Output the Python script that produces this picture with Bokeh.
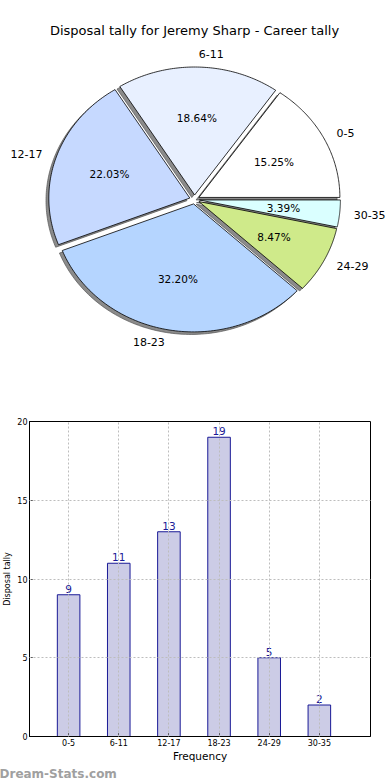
import numpy as np
from bokeh.plotting import figure
from bokeh.models import ColumnDataSource, Label, FixedTicker, Range1d, Title
from bokeh.layouts import column, row
from bokeh.embed import file_html
from bokeh.resources import INLINE
from bokeh.core.properties import value

# ---------------- data ----------------
title_text = "Disposal tally for Jeremy Sharp - Career tally"
categories = ["0-5", "6-11", "12-17", "18-23", "24-29", "30-35"]
tallies = [9, 11, 13, 19, 5, 2]
slice_colors = ["#FFFFFF", "#E8F0FF", "#C6D9FF", "#B5D5FF", "#CFEA8A", "#DAFFFF"]
y_ticks = [0, 5, 10, 15, 20]
bar_xlabel = "Frequency"
bar_ylabel = "Disposal tally"
watermark = "Dream-Stats.com"

FONT = "DejaVu Sans"
PIE_W = 390
PIE_H = 400

# ---------------- pie ----------------
vals = np.array(tallies, dtype=float)
frac = vals / vals.sum()
ends = np.cumsum(frac) * 2 * np.pi
starts = ends - frac * 2 * np.pi
mids = (starts + ends) / 2
explode = 0.035
ex = explode * np.cos(mids)
ey = explode * np.sin(mids)

xs, ys, sxs, sys_ = [], [], [], []
for s, e, dx, dy in zip(starts, ends, ex, ey):
    t = np.linspace(s, e, 90)
    px = np.concatenate([[0.0], np.cos(t), [0.0]]) + dx
    py = np.concatenate([[0.0], np.sin(t), [0.0]]) + dy
    xs.append(px.tolist())
    ys.append(py.tolist())
    sxs.append((px - 0.02).tolist())
    sys_.append((py - 0.02).tolist())

RX, RY = 141.0, 128.0   # pixels per unit
CX, CY = 194.0, 199.0   # centre in figure pixels (from left / top)
p1 = figure(frame_width=PIE_W, frame_height=PIE_H, title=None,
            x_range=Range1d(-CX / RX, (PIE_W - CX) / RX),
            y_range=Range1d(-(PIE_H - CY) / RY, CY / RY),
            output_backend="svg", toolbar_location=None,
            x_axis_location=None, y_axis_location=None,
            min_border=0, min_border_left=0, min_border_right=0,
            min_border_top=0, min_border_bottom=0,
            outline_line_color=None)
p1.xgrid.visible = False
p1.ygrid.visible = False

p1.patches(xs=sxs, ys=sys_, fill_color="#4d4d4d", fill_alpha=0.65,
           line_color="#4d4d4d", line_alpha=0.65, line_width=1)
p1.patches(xs=xs, ys=ys, fill_color=slice_colors, line_color="black", line_width=0.8)

lx = ex + 1.1 * np.cos(mids)
ly = ey + 1.1 * np.sin(mids)
right_side = lx > 0
for mask, align in ((right_side, "left"), (~right_side, "right")):
    src = ColumnDataSource(dict(x=lx[mask], y=ly[mask],
                                t=[c for c, m in zip(categories, mask) if m]))
    p1.text(x="x", y="y", text="t", source=src, text_align=align,
            text_baseline="middle", text_font=value(FONT),
            text_font_size="11px", text_color="black")

pxs = ex + 0.6 * np.cos(mids)
pys = ey + 0.6 * np.sin(mids)
pct = ["%.2f%%" % (f * 100) for f in frac]
p1.text(x=pxs, y=pys, text=pct, text_align="center", text_baseline="middle",
        text_font=value(FONT), text_font_size="10.5px", text_color="black")

p1.add_layout(Label(x=0.0, y=169 / RY, text=title_text, text_align="center",
                    text_baseline="middle", text_font=FONT, text_font_size="13px",
                    text_color="black"))

# ---------------- bar ----------------
idx = list(range(len(categories)))
p2 = figure(width=390, height=380, title=None,
            x_range=Range1d(-0.78, 6.02), y_range=Range1d(0, 20),
            output_backend="svg", toolbar_location=None,
            min_border_top=21, min_border_right=20, min_border_bottom=0,
            min_border_left=0)
p2.vbar(x=idx, top=tallies, width=0.45, fill_color="#CCCCE6",
        line_color="#1a1a96", line_width=1)
p2.text(x=idx, y=tallies, text=[str(v) for v in tallies], text_align="center",
        text_baseline="bottom", y_offset=-2, text_font=value(FONT),
        text_font_size="10.5px", text_color="#1a1a96")

p2.outline_line_color = "black"
p2.outline_line_width = 1
p2.xaxis.ticker = FixedTicker(ticks=idx)
p2.xaxis.major_label_overrides = {i: c for i, c in zip(idx, categories)}
p2.yaxis.ticker = FixedTicker(ticks=y_ticks)
for ax in (p2.xaxis, p2.yaxis):
    ax.major_label_text_font = FONT
    ax.major_label_text_font_size = "8px"
    ax.major_label_text_color = "black"
    ax.major_tick_in = 3
    ax.major_tick_out = 0
    ax.minor_tick_line_color = None
    ax.axis_line_color = "black"
    ax.major_tick_line_color = "black"
    ax.major_label_standoff = 2
    ax.axis_label_text_font = FONT
    ax.axis_label_text_font_style = "normal"
    ax.axis_label_text_color = "black"
p2.xaxis.axis_label = bar_xlabel
p2.xaxis.axis_label_text_font_size = "10.5px"
p2.xaxis.axis_label_standoff = 1
p2.yaxis.axis_label = bar_ylabel
p2.yaxis.axis_label_text_font_size = "8px"
p2.yaxis.axis_label_standoff = 2

p2.xgrid.ticker = FixedTicker(ticks=idx)
p2.ygrid.ticker = FixedTicker(ticks=y_ticks)
p2.grid.grid_line_color = "#bdbdbd"
p2.grid.grid_line_dash = "2 2"
p2.grid.grid_line_width = 1
p2.grid.level = "overlay"

p2.add_layout(Title(text=watermark, align="left", offset=-30, standoff=0,
                    text_font=FONT, text_font_size="12px", text_font_style="bold",
                    text_color="#a0a0a0"), "below")

layout = column(row(p1), row(p2), spacing=0)
open("out.html", "w").write(file_html(layout, INLINE))
